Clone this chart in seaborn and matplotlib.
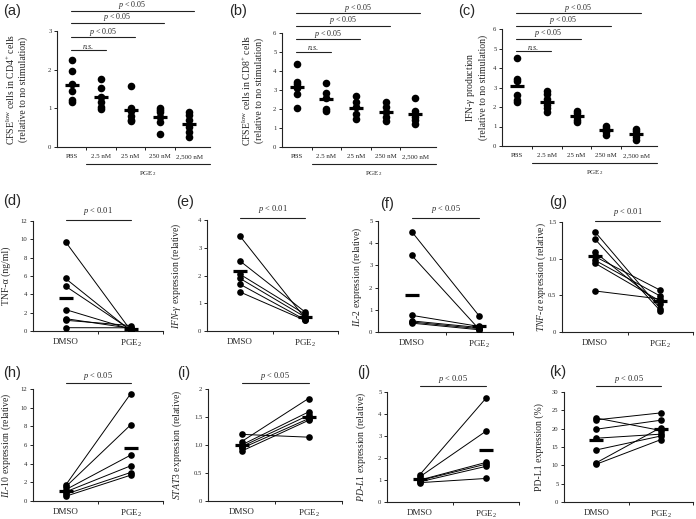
import numpy as np
import pandas as pd
import matplotlib
matplotlib.use("Agg")
import matplotlib.pyplot as plt
import matplotlib.transforms as mtransforms
import seaborn as sns

sns.set_theme(style="ticks")
plt.rcParams["font.family"] = ["Liberation Serif", "DejaVu Serif"]
plt.rcParams["mathtext.fontset"] = "custom"
plt.rcParams["mathtext.rm"] = "Liberation Serif"
plt.rcParams["mathtext.it"] = "Liberation Serif:italic"
plt.rcParams["mathtext.bf"] = "Liberation Serif:bold"

# ---- datos ----
doses = ["PBS", "2.5 nM", "25 nM", "250 nM", "2,500 nM"]

cd4_values = [[2.26, 1.96, 1.64, 1.45, 1.21, 1.16],
              [1.75, 1.53, 1.29, 1.16, 1.03, 0.97],
              [1.57, 1.00, 0.93, 0.80, 0.70, 0.67],
              [1.00, 0.95, 0.90, 0.78, 0.65, 0.33],
              [0.91, 0.82, 0.71, 0.52, 0.39, 0.26]]
cd8_values = [[4.39, 3.42, 3.30, 3.12, 2.81, 2.05],
              [3.35, 2.85, 2.60, 2.02, 1.90],
              [2.68, 2.37, 2.10, 1.75, 1.49],
              [2.37, 2.10, 1.84, 1.58, 1.37],
              [2.60, 1.90, 1.75, 1.60, 1.40, 1.22]]
ifn_values = [[4.51, 3.45, 3.31, 2.62, 2.37, 2.28],
              [2.80, 2.65, 2.40, 2.10, 1.95, 1.73],
              [1.82, 1.68, 1.55, 1.51, 1.34, 1.25],
              [1.02, 0.92, 0.80, 0.70, 0.55],
              [0.88, 0.75, 0.60, 0.45, 0.33]]

groups = ["DMSO", "PGE$_2$"]
tnf_dmso = [9.74, 5.73, 4.89, 2.34, 1.35, 1.17, 0.36]
tnf_pge2 = [0.10, 0.05, 0.15, 0.20, 0.30, 0.60, 0.35]
ifng_dmso = [3.43, 2.53, 2.05, 1.90, 1.69, 1.41]
ifng_pge2 = [0.45, 0.68, 0.60, 0.50, 0.40, 0.38]
il2_dmso = [4.52, 3.45, 0.75, 0.50, 0.45, 0.40]
il2_pge2 = [0.72, 0.12, 0.25, 0.20, 0.15, 0.10]
tnfa_dmso = [1.37, 1.27, 1.09, 1.03, 0.98, 0.94, 0.56]
tnfa_pge2 = [0.32, 0.29, 0.38, 0.57, 0.49, 0.42, 0.45]
il10_dmso = [1.68, 1.50, 1.20, 0.97, 0.72, 0.50]
il10_pge2 = [11.47, 8.14, 4.91, 3.76, 3.05, 2.76]
stat3_dmso = [1.19, 1.06, 1.00, 0.97, 0.94, 0.89]
stat3_pge2 = [1.14, 1.83, 1.59, 1.53, 1.47, 1.44]
pdl1_dmso = [1.25, 1.15, 1.00, 0.98, 0.92, 0.88]
pdl1_pge2 = [4.72, 3.22, 1.80, 1.72, 1.62, 1.07]
pct_dmso = [22.9, 22.4, 19.85, 17.4, 14.2, 10.7, 10.3]
pct_pge2 = [19.5, 24.3, 22.3, 18.5, 18.0, 20.3, 17.0]

W, H = 696, 519
fig = plt.figure(figsize=(W / 100, H / 100), dpi=100)
INK = "#222222"


def add_panel(x0, x1, y0, y1):
    ax = fig.add_axes([x0 / W, 1 - y1 / H, (x1 - x0) / W, (y1 - y0) / H])
    return ax, (x1 - x0), (y1 - y0)


def base_style(ax, ymax, ystep, ylabel, label_right_px, x0, w, yfmt=None):
    sns.despine(ax=ax)
    for s in ["left", "bottom"]:
        ax.spines[s].set_color(INK)
        ax.spines[s].set_linewidth(0.8)
    ax.set_ylim(0, ymax)
    ticks = np.arange(0, ymax + ystep / 2, ystep)
    ax.set_yticks(ticks)
    if yfmt is not None:
        ax.set_yticklabels(yfmt)
    ax.tick_params(axis="y", direction="out", length=2.2, width=0.7, labelsize=4.8, pad=1.8, color=INK)
    ax.set_ylabel(ylabel, fontsize=7)
    ax.yaxis.set_label_coords((label_right_px - x0) / w, 0.5)


def panel_letter(txt, x, y):
    fig.text(x / W, 1 - y / H, txt, fontsize=10.5, family="Liberation Sans", va="center", ha="left")


def mean_bars(ax, df, x):
    sns.pointplot(data=df, x=x, y="value", native_scale=True, estimator="mean", errorbar=None,
                  color="black", markers="_", linestyle="none", markersize=10, markeredgewidth=2.3,
                  ax=ax, zorder=4)


def dose_panel(box, values, ymax, ylabel, label_right_px, sig_levels, letter, letter_xy):
    x0, x1, y0, y1 = box
    ax, w, h = add_panel(*box)
    df = pd.DataFrame({"pos": [i for i, v in enumerate(values) for _ in v],
                       "value": [x for v in values for x in v]})
    sns.scatterplot(data=df, x="pos", y="value", color="black", s=30, linewidth=0, ax=ax, zorder=3)
    mean_bars(ax, df, "pos")
    base_style(ax, ymax, 1, ylabel, label_right_px, x0, w)
    ax.set_xlim(-0.5, 4.7)
    ax.set_xticks(range(len(doses)))
    ax.set_xticklabels(doses, fontsize=5)
    ax.set_xticks([0.5, 1.5, 2.5, 3.5], minor=True)
    ax.tick_params(axis="x", which="major", length=0, pad=5)
    ax.tick_params(axis="x", which="minor", direction="out", length=2.5, width=0.7, color=INK)
    ax.set_xlabel("")
    # comparaciones frente a PBS
    for j, level in enumerate(sig_levels, start=1):
        xs = [-0.03, j + 0.15]
        ax.plot(xs, [level, level], color=INK, lw=0.8, clip_on=False)
        if j == 1:
            txt, style = "n.s.", "italic"
        else:
            txt, style = "$\\it{p}$ < 0.05", "normal"
        ax.annotate(txt, xy=(np.mean(xs), level), xytext=(0, -0.4), textcoords="offset points",
                    ha="center", va="bottom", fontsize=5.8, fontstyle=style, annotation_clip=False)
    # barra PGE2
    trans = mtransforms.blended_transform_factory(ax.transData, ax.transAxes)
    ax.plot([0.5, 4.7], [-17 / h, -17 / h], color=INK, lw=0.8, transform=trans, clip_on=False)
    ax.text(2.6, -27 / h, "PGE$_2$", transform=trans, ha="center", va="center", fontsize=5)
    panel_letter(letter, *letter_xy)
    return ax


def paired_panel(box, dmso, pge2, ymax, ystep, ylabel, label_right_px, ptxt, sig_px, letter, letter_xy,
                 yfmt=None, txt_off=0.5):
    x0, x1, y0, y1 = box
    ax, w, h = add_panel(*box)
    n = len(dmso)
    df = pd.DataFrame({"subject": list(range(n)) * 2, "pos": [0] * n + [1] * n,
                       "value": list(dmso) + list(pge2)})
    sns.lineplot(data=df, x="pos", y="value", units="subject", estimator=None, color="black",
                 linewidth=0.7, marker="o", markersize=4.8, markeredgewidth=0, ax=ax, zorder=3)
    mean_bars(ax, df, "pos")
    base_style(ax, ymax, ystep, ylabel, label_right_px, x0, w, yfmt)
    ax.set_xlim(-0.5, 1.5)
    ax.set_xticks([0, 1])
    ax.set_xticklabels(groups, fontsize=6.5)
    ax.set_xticks([0.5, 1.5], minor=True)
    ax.tick_params(axis="x", which="major", length=0, pad=5)
    ax.tick_params(axis="x", which="minor", direction="out", length=2.5, width=0.7, color=INK)
    ax.set_xlabel("")
    trans = mtransforms.blended_transform_factory(ax.transData, ax.transAxes)
    yf = 1 + sig_px / h
    ax.plot([0, 1], [yf, yf], color=INK, lw=0.8, transform=trans, clip_on=False)
    ax.annotate("$\\it{p}$ < " + ptxt, xy=(0.5, yf), xycoords=trans, xytext=(0, txt_off),
                textcoords="offset points", ha="center", va="bottom", fontsize=6, annotation_clip=False)
    panel_letter(letter, *letter_xy)
    return ax


# fila superior
dose_panel((57, 210, 31, 147), cd4_values, 3,
           "CFSE$^{\\rm low}$ cells in CD4$^{+}$ cells\n(relative to no stimulation)", 28,
           [2.51, 2.84, 3.21, 3.52], "(a)", (3, 11))
dose_panel((282, 436, 33, 147), cd8_values, 6,
           "CFSE$^{\\rm low}$ cells in CD8$^{+}$ cells\n(relative to no stimulation)", 264,
           [5.02, 5.68, 6.38, 7.04], "(b)", (229, 11))
dose_panel((502, 657, 29, 146), ifn_values, 6,
           "IFN-$\\it{γ}$ production\n(relative to no stimulation)", 488,
           [4.86, 5.50, 6.17, 6.82], "(c)", (458, 11))

# fila central
paired_panel((33, 163, 221, 331), tnf_dmso, tnf_pge2, 12, 2, "TNF-α (ng/ml)", 11,
             "0.01", 1, "(d)", (3, 201), txt_off=2)
paired_panel((207, 338, 220, 331), ifng_dmso, ifng_pge2, 4, 1,
             "$\\it{IFN}$-$\\it{γ}$ expression (relative)", 183, "0.01", 2, "(e)", (176, 202), txt_off=2)
paired_panel((378, 513, 221, 332), il2_dmso, il2_pge2, 5, 1,
             "$\\it{IL}$-$\\it{2}$ expression (relative)", 364, "0.05", 3, "(f)", (380, 204), txt_off=2)
paired_panel((562, 693, 222, 332), tnfa_dmso, tnfa_pge2, 1.5, 0.5,
             "$\\it{TNF}$-$\\it{α}$ expression (relative)", 548, "0.01", 1, "(g)", (549, 202),
             yfmt=["0", "0.5", "1.0", "1.5"], txt_off=2)

# fila inferior
paired_panel((33, 163, 389, 501), il10_dmso, il10_pge2, 12, 2,
             "$\\it{IL}$-$\\it{10}$ expression (relative)", 13, "0.05", 6, "(h)", (3, 373))
paired_panel((208, 342, 389, 501), stat3_dmso, stat3_pge2, 2, 0.5,
             "$\\it{STAT3}$ expression (relative)", 184, "0.05", 6, "(i)", (177, 373),
             yfmt=["0", "0.5", "1.0", "1.5", "2"])
paired_panel((387, 519, 392, 502), pdl1_dmso, pdl1_pge2, 5, 1,
             "$\\it{PD}$-$\\it{L1}$ expression (relative)", 368, "0.05", 6, "(j)", (357, 372))
paired_panel((564, 693, 392, 502), pct_dmso, pct_pge2, 30, 5,
             "PD-L1 expression (%)", 544, "0.05", 6, "(k)", (549, 372))

fig.savefig("out.png", dpi=100, facecolor="white")
